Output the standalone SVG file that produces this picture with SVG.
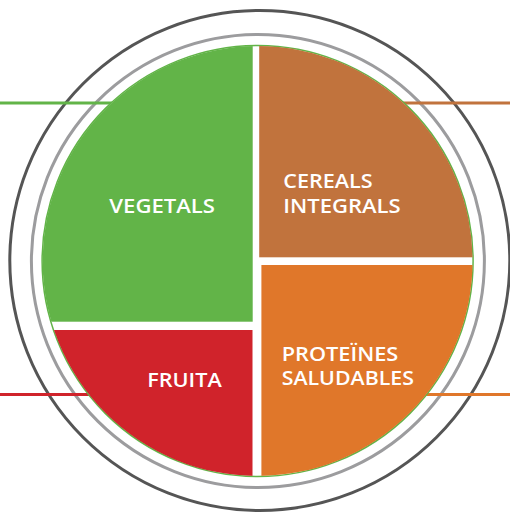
<svg xmlns="http://www.w3.org/2000/svg" width="510" height="512" viewBox="0 0 510 512">
<style>
.lbl{font-family:"Open Sans","Liberation Sans",sans-serif;font-weight:600;font-size:19px;fill:#ffffff}
.tick{stroke-width:3;fill:none}
</style>
<defs>
<clipPath id="pie"><circle cx="257.6" cy="261" r="215"/></clipPath>
</defs>
<rect width="510" height="512" fill="#ffffff"/>
<g id="rings" fill="none">
<circle cx="259.8" cy="260.5" r="250" stroke="#555555" stroke-width="3"/>
<circle cx="257.9" cy="261" r="226.5" stroke="#9c9c9e" stroke-width="3"/>
</g>
<g id="connectors" class="tick">
<line x1="0" y1="103" x2="130" y2="103" stroke="#62b448"/>
<line x1="390" y1="103" x2="510" y2="103" stroke="#c1733d"/>
<line x1="0" y1="394.5" x2="130" y2="394.5" stroke="#d0232b"/>
<line x1="390" y1="394.5" x2="510" y2="394.5" stroke="#e0772a"/>
</g>
<circle cx="257.6" cy="261" r="215.5" fill="#ffffff" stroke="#62b448" stroke-width="1.5"/>
<g id="vegetals">
<rect x="30" y="40" width="222.7" height="281.7" fill="#62b448" clip-path="url(#pie)"/>
<text class="lbl" x="109.3" y="212.7" textLength="105.7" lengthAdjust="spacingAndGlyphs">VEGETALS</text>
</g>
<g id="cereals">
<rect x="259.2" y="40" width="230" height="217.3" fill="#c1733d" clip-path="url(#pie)"/>
<text class="lbl" x="283.3" y="188.3" textLength="89.4" lengthAdjust="spacingAndGlyphs">CEREALS</text>
<text class="lbl" x="283.3" y="213.3" textLength="117.4" lengthAdjust="spacingAndGlyphs">INTEGRALS</text>
</g>
<g id="fruita">
<rect x="30" y="330" width="222.5" height="160" fill="#d0232b" clip-path="url(#pie)"/>
<text class="lbl" x="147.3" y="386.7" textLength="74.4" lengthAdjust="spacingAndGlyphs">FRUITA</text>
</g>
<g id="proteines">
<rect x="261.4" y="265" width="230" height="225" fill="#e0772a" clip-path="url(#pie)"/>
<text class="lbl" x="281.7" y="361" textLength="116.6" lengthAdjust="spacingAndGlyphs">PROTEÏNES</text>
<text class="lbl" x="281.7" y="385" textLength="132.3" lengthAdjust="spacingAndGlyphs">SALUDABLES</text>
</g>
</svg>
